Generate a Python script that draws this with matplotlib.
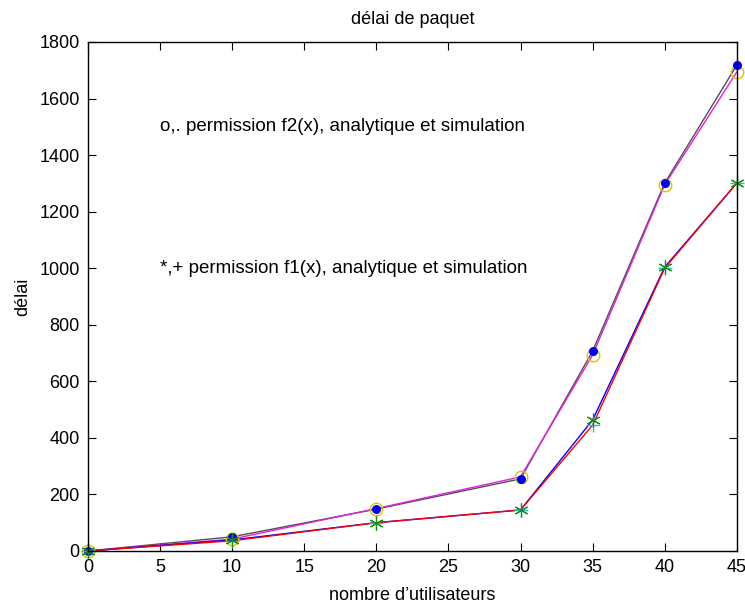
import numpy as np
import matplotlib.pyplot as plt

plt.rcParams['font.family'] = ['Liberation Sans', 'DejaVu Sans']

users = [0, 10, 20, 30, 35, 40, 45]
# permission f2(x)
f2_analytique = [0, 42, 150, 262, 693, 1295, 1694]
f2_simulation = [0, 50, 148, 255, 707, 1301, 1718]
# permission f1(x)
f1_analytique = [0, 36, 100, 145, 445, 1000, 1301]
f1_simulation = [0, 39, 100, 145, 463, 1004, 1301]

fig = plt.figure(figsize=(7.45, 6.06), dpi=100)
ax = fig.add_axes([0.118, 0.0908, 0.871, 0.8399])

ax.plot(users, f2_simulation, color='#505050', lw=1)
ax.plot(users, f2_analytique, color='#e020e0', lw=1)
ax.plot(users, f1_simulation, color='blue', lw=1)
ax.plot(users, f1_analytique, color='red', lw=1)

ax.plot(users, f2_analytique, 'o', ms=9, mfc='none', mec='#d4c800', mew=1, clip_on=False)
ax.plot(users, f2_simulation, '.', ms=11, color='blue', clip_on=False)
ax.plot(users, f1_analytique, '+', ms=10, color='#20c0c0', mew=1, clip_on=False)
ax.plot(users, f1_simulation, ls='none', ms=10, color='#109010', mew=0.8, marker=(6, 2, 0), clip_on=False)

ax.text(5, 1500, 'o,. permission f2(x), analytique et simulation', fontsize=13.5, va='center')
ax.text(5, 1000, '*,+ permission f1(x), analytique et simulation', fontsize=13.5, va='center')

ax.set_xlim(0, 45)
ax.set_ylim(0, 1800)
ax.set_xticks(np.arange(0, 46, 5))
ax.set_yticks(np.arange(0, 1801, 200))
ax.tick_params(direction='in', length=6, width=0.8, labelsize=13, top=True, right=True, pad=6)
for s in ax.spines.values():
    s.set_linewidth(1)

ax.set_title('délai de paquet', fontsize=13, pad=13)
ax.set_xlabel("nombre d\u2019utilisateurs", fontsize=13, labelpad=8)
ax.set_ylabel('délai', fontsize=13, labelpad=6)

fig.savefig('out.png', dpi=100)
